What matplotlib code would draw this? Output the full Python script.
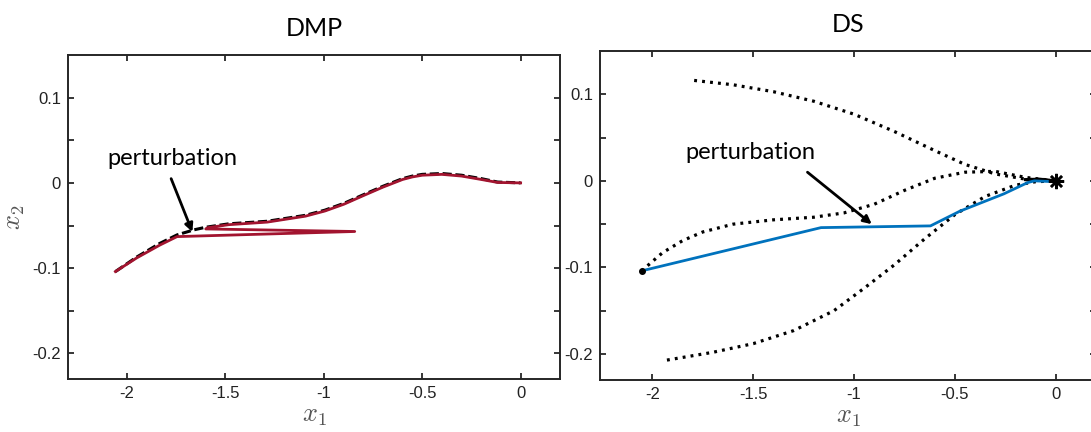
import matplotlib
matplotlib.use("Agg")
import matplotlib.pyplot as plt
import numpy as np

# ---------------- data ----------------
# DMP panel: demonstration (black dashed)
dmp_demo_x = [-2.059, -1.951, -1.834, -1.746, -1.659, -1.600, -1.483, -1.288, -1.093,
              -0.995, -0.898, -0.800, -0.700, -0.600, -0.550, -0.500, -0.400, -0.300,
              -0.200, -0.117, 0.0]
dmp_demo_y = [-0.104, -0.087, -0.071, -0.061, -0.055, -0.052, -0.048, -0.045, -0.038,
              -0.032, -0.024, -0.014, -0.004, 0.005, 0.008, 0.010, 0.011, 0.009,
              0.005, 0.001, 0.0]
# DMP panel: reproduction with perturbation (red)
dmp_rep_x = [-2.059, -1.951, -1.834, -1.746, -0.843, -1.600, -1.590, -1.483, -1.288,
             -1.093, -0.995, -0.898, -0.800, -0.700, -0.600, -0.550, -0.500, -0.400,
             -0.300, -0.200, -0.117, 0.0]
dmp_rep_y = [-0.104, -0.088, -0.073, -0.063, -0.057, -0.054, -0.0525, -0.049, -0.046,
             -0.039, -0.033, -0.025, -0.015, -0.005, 0.004, 0.007, 0.009, 0.010,
             0.008, 0.004, 0.0005, 0.0]

# DS panel: perturbed trajectory (blue)
ds_path_x = [-2.054, -1.164, -0.621, -0.475, -0.257, -0.139, -0.106, 0.0]
ds_path_y = [-0.104, -0.054, -0.052, -0.035, -0.015, -0.002, 0.0, -0.001]

# DS panel: dotted streamlines
ds_top_x = [-1.793, -1.6, -1.4, -1.2, -1.0, -0.8, -0.6, -0.45, -0.3, -0.15, 0.0]
ds_top_y = [0.116, 0.111, 0.103, 0.092, 0.077, 0.057, 0.035, 0.019, 0.008, 0.002, 0.0]
ds_mid_x = [-2.054, -1.95, -1.85, -1.75, -1.6, -1.4, -1.2, -1.05, -0.9, -0.75, -0.6,
            -0.45, -0.3, -0.15, 0.0]
ds_mid_y = [-0.104, -0.083, -0.069, -0.059, -0.050, -0.045, -0.042, -0.037, -0.027,
            -0.011, 0.003, 0.010, 0.011, 0.004, 0.0]
ds_bot_x = [-1.928, -1.7, -1.5, -1.3, -1.1, -0.95, -0.8, -0.65, -0.5, -0.35, -0.2,
            -0.1, 0.0]
ds_bot_y = [-0.207, -0.198, -0.188, -0.173, -0.150, -0.124, -0.097, -0.067, -0.039,
            -0.018, -0.005, -0.001, 0.0]
ds_conv_x = [-0.15, -0.08, 0.0]
ds_conv_y = [0.0015, 0.002, 0.0]

target = (0.0, 0.0)
ds_start = (-2.054, -0.104)

xticks = [-2, -1.5, -1, -0.5, 0]
xtick_labels = ["-2", "-1.5", "-1", "-0.5", "0"]
yticks = [-0.2, -0.15, -0.1, -0.05, 0, 0.05, 0.1]
ytick_labels = ["-0.2", "", "-0.1", "", "0", "", "0.1"]

titles = ["DMP", "DS"]
annot_text = "perturbation"

# ---------------- style ----------------
W, H = 1091, 432
fig = plt.figure(figsize=(W / 100, H / 100), dpi=100)
plt.rcParams['mathtext.fontset'] = 'cm'

spine_col = '#262626'
red = '#A2142F'
blue = '#0072BD'


def px_axes(l, t, r, b):
    return fig.add_axes([l / W, (H - b) / H, (r - l) / W, (b - t) / H])


def style(ax, xlim):
    ax.set_xlim(*xlim)
    ax.set_ylim(-0.23, 0.15)
    ax.set_xticks(xticks)
    ax.set_xticklabels(xtick_labels)
    ax.set_yticks(yticks)
    ax.set_yticklabels(ytick_labels)
    for s in ax.spines.values():
        s.set_linewidth(1.4)
        s.set_color(spine_col)
    ax.tick_params(direction='in', length=4, width=1.3, top=True, right=True,
                   colors=spine_col, labelsize=12, pad=5)
    for lab in ax.get_xticklabels() + ax.get_yticklabels():
        lab.set_family(['Liberation Sans', 'DejaVu Sans'])
        lab.set_color('#222222')
    ax.set_xlabel(r'$x_1$', fontsize=19, color='#555555', labelpad=1)


ax1 = px_axes(68, 55, 560, 379)
style(ax1, (-2.3, 0.2))
ax1.set_ylabel(r'$x_2$', fontsize=19, color='#555555', labelpad=4)
ax1.plot(dmp_demo_x, dmp_demo_y, color='black', lw=2.2, ls=(0, (3, 1.2)), zorder=2)
ax1.plot(dmp_rep_x, dmp_rep_y, color=red, lw=2.0, zorder=3, solid_joinstyle='round')
ax1.text(-1.77, 0.0285, annot_text, fontsize=17, family=['Lato', 'DejaVu Sans'],
         ha='center', va='center')
ax1.annotate('', xy=(-1.668, -0.0575), xytext=(-1.776, 0.005),
             arrowprops=dict(arrowstyle='-|>', color='black', lw=2,
                             mutation_scale=12, shrinkA=0, shrinkB=0))
ax1.set_title(titles[0], fontsize=18, family=['Lato', 'DejaVu Sans'], pad=14)

ax2 = px_axes(600, 51, 1096, 380)
style(ax2, (-2.26, 0.2))
dot_ls = (0, (0.9, 1.6))
for xs, ys in [(ds_top_x, ds_top_y), (ds_mid_x, ds_mid_y), (ds_bot_x, ds_bot_y)]:
    ax2.plot(xs, ys, color='black', lw=2.3, ls=dot_ls, zorder=2)
ax2.plot(ds_conv_x, ds_conv_y, color='black', lw=2.2, zorder=2)
ax2.plot(ds_path_x, ds_path_y, color=blue, lw=2.0, zorder=3)
ax2.plot([ds_start[0]], [ds_start[1]], marker='o', ms=4, color='black', zorder=4)
ax2.plot([target[0]], [target[1]], marker=(8, 2, 0), ms=11, mew=1.8,
         color='black', zorder=4)
ax2.text(-1.514, 0.033, annot_text, fontsize=17, family=['Lato', 'DejaVu Sans'],
         ha='center', va='center')
ax2.annotate('', xy=(-0.912, -0.050), xytext=(-1.231, 0.010),
             arrowprops=dict(arrowstyle='-|>', color='black', lw=2,
                             mutation_scale=12, shrinkA=0, shrinkB=0))
ax2.set_title(titles[1], fontsize=18, family=['Lato', 'DejaVu Sans'], pad=14)

fig.savefig('out.png', dpi=100, facecolor='white')
